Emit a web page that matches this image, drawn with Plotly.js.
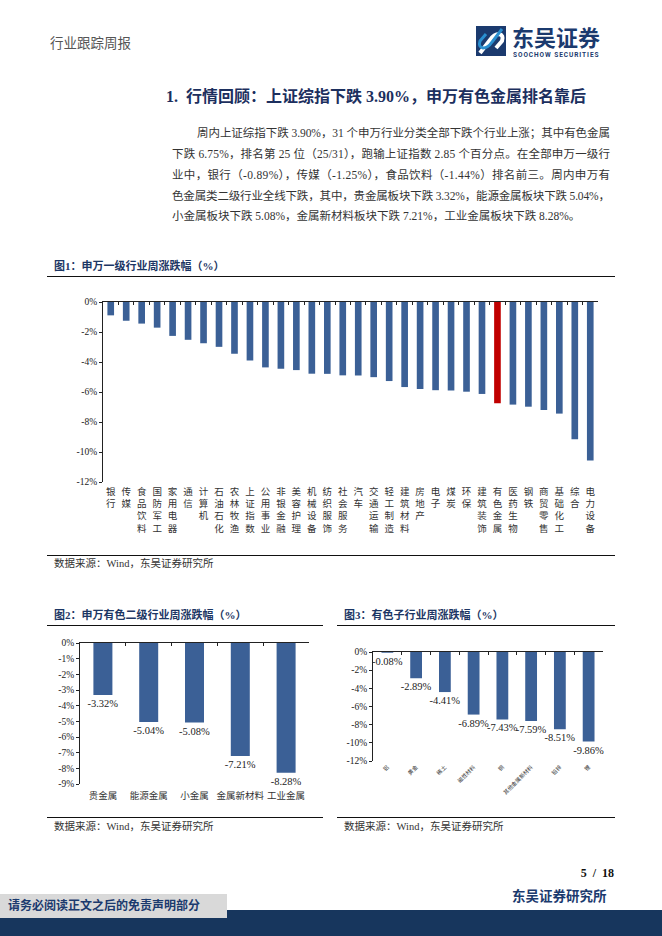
<!DOCTYPE html>
<html><head><meta charset="utf-8">
<script src="https://cdn.plot.ly/plotly-3.0.1.min.js"></script>
<style>
html,body{margin:0;padding:0;background:#fff;}
body{width:662px;height:936px;position:relative;overflow:hidden;font-family:"Liberation Serif","Noto Sans CJK SC",serif;}
.abs{position:absolute;white-space:nowrap;line-height:1;}
.para{position:absolute;line-height:20px;height:20px;font-size:11.5px;color:#333;white-space:nowrap;}
.ftitle{position:absolute;line-height:1;font-size:11px;font-weight:bold;color:#1c3664;white-space:nowrap;}
.rule{position:absolute;height:0;border-top:1.5px solid #111;}
.src{position:absolute;line-height:1;font-size:10.5px;color:#333;white-space:nowrap;}
.chart{position:absolute;}
</style></head><body>

<div class="abs" style="left:50px;top:36px;font-size:13.5px;color:#555;font-family:'Noto Sans CJK SC';">行业跟踪周报</div>
<svg class="abs" style="left:476px;top:26px;" width="30" height="30" viewBox="0 0 30 30">
  <rect x="0" y="0" width="30" height="30" fill="#1b3a6e"/>
  <path d="M4 27 L14 14 Q18 8 23 8 Q28 9 26 15 L20 22" fill="none" stroke="#fff" stroke-width="4"/>
  <path d="M26 3 L16 16 Q12 22 7 22 Q2 21 4 15 L10 8" fill="none" stroke="#2a8fd0" stroke-width="3"/>
</svg>
<div class="abs" style="left:512px;top:25px;font-size:22px;color:#1b3a6e;font-family:'Noto Sans CJK SC';font-weight:bold;">东吴证券</div>
<div class="abs" style="left:513px;top:51.5px;font-size:6.5px;color:#1b3a6e;font-family:Roboto;font-weight:bold;letter-spacing:0.95px;">SOOCHOW SECURITIES</div>

<div class="abs" style="left:166px;top:89px;font-size:16px;font-weight:bold;color:#1c2f5e;">1.&nbsp; 行情回顾：上证综指下跌 3.90%，申万有色金属排名靠后</div>

<div class="para fit" data-w="413" style="left:197px;top:123px;">周内上证综指下跌 3.90%，31 个申万行业分类全部下跌个行业上涨；其中有色金属</div>
<div class="para fit" data-w="438" style="left:172px;top:143.5px;">下跌 6.75%，排名第 25 位（25/31），跑输上证指数 2.85 个百分点。在全部申万一级行</div>
<div class="para fit" data-w="438" style="left:172px;top:164.5px;">业中，银行（-0.89%），传媒（-1.25%），食品饮料（-1.44%）排名前三。周内申万有</div>
<div class="para fit" data-w="438" style="left:172px;top:185.5px;">色金属类二级行业全线下跌，其中，贵金属板块下跌 3.32%，能源金属板块下跌 5.04%，</div>
<div class="para" style="left:172px;top:206px;">小金属板块下跌 5.08%，金属新材料板块下跌 7.21%，工业金属板块下跌 8.28%。</div>

<div class="ftitle" style="left:54px;top:261px;">图1：申万一级行业周涨跌幅（%）</div>
<div class="rule" style="left:47px;top:275.5px;width:568px;"></div>
<div id="fig1" class="chart" style="left:0;top:280px;width:662px;height:270px;"></div>
<div class="rule" style="left:47px;top:554.5px;width:568px;"></div>
<div class="src" style="left:54px;top:559px;">数据来源：Wind，东吴证券研究所</div>

<div class="ftitle" style="left:54px;top:609.5px;">图2：申万有色二级行业周涨跌幅（%）</div>
<div class="rule" style="left:47px;top:624.5px;width:276px;"></div>
<div class="ftitle" style="left:344px;top:609.5px;">图3：有色子行业周涨跌幅（%）</div>
<div class="rule" style="left:337px;top:624.5px;width:278px;"></div>
<div id="fig2" class="chart" style="left:0;top:630px;width:330px;height:180px;"></div>
<div id="fig3" class="chart" style="left:330px;top:630px;width:300px;height:180px;"></div>
<div class="rule" style="left:47px;top:816.5px;width:276px;"></div>
<div class="rule" style="left:337px;top:816.5px;width:278px;"></div>
<div class="src" style="left:54px;top:822px;">数据来源：Wind，东吴证券研究所</div>
<div class="src" style="left:344px;top:822px;">数据来源：Wind，东吴证券研究所</div>

<div class="abs" style="right:48px;top:867px;font-size:12px;font-weight:bold;color:#111;">5&nbsp; /&nbsp; 18</div>
<div class="abs" style="left:512px;top:890px;font-size:13.5px;font-weight:bold;color:#1b3a6e;">东吴证券研究所</div>
<div class="abs" style="left:227px;top:910px;width:435px;height:26px;background:#17365d;"></div>
<div class="abs" style="left:0;top:918px;width:662px;height:18px;background:#17365d;"></div>
<div class="abs" style="left:0;top:894px;width:227px;height:24px;background:#d9d9d9;"></div>
<div class="abs" style="left:8px;top:900px;font-size:12px;font-weight:bold;color:#1b3a6e;">请务必阅读正文之后的免责声明部分</div>

<script>
// fit justified paragraph lines to their width
document.querySelectorAll('.fit').forEach(el => {
  const target = parseFloat(el.dataset.w);
  const n = el.textContent.length;
  const natural = el.getBoundingClientRect().width;
  el.style.letterSpacing = ((target - natural) / (n - 1)) + 'px';
});

// ---------- data ----------
const fig1Categories = ['银行','传媒','食品饮料','国防军工','家用电器','通信','计算机','石油石化','农林牧渔','上证指数','公用事业','非银金融','美容护理','机械设备','纺织服饰','社会服务','汽车','交通运输','轻工制造','建筑材料','房地产','电子','煤炭','环保','建筑装饰','有色金属','医药生物','钢铁','商贸零售','基础化工','综合','电力设备'];
const fig1Values = [-0.89,-1.25,-1.44,-1.71,-2.26,-2.52,-2.75,-2.99,-3.45,-3.90,-4.36,-4.45,-4.54,-4.78,-4.79,-4.89,-4.90,-5.01,-5.27,-5.67,-5.80,-5.88,-5.90,-5.98,-6.13,-6.75,-6.84,-6.98,-7.20,-7.44,-9.15,-10.56];
const fig1Highlight = '有色金属';
const fig1YTickVals = [0,-2,-4,-6,-8,-10,-12];
const fig1YTickText = ['0%','-2%','-4%','-6%','-8%','-10%','-12%'];

const fig2Categories = ['贵金属','能源金属','小金属','金属新材料','工业金属'];
const fig2Values = [-3.32,-5.04,-5.08,-7.21,-8.28];
const fig2YTickVals = [0,-1,-2,-3,-4,-5,-6,-7,-8,-9];
const fig2YTickText = ['0%','-1%','-2%','-3%','-4%','-5%','-6%','-7%','-8%','-9%'];

const fig3Categories = ['铝','黄金','稀土','磁性材料','铜','其他金属新材料','铅锌','锂'];
const fig3Values = [-0.08,-2.89,-4.41,-6.89,-7.43,-7.59,-8.51,-9.86];
const fig3YTickVals = [0,-2,-4,-6,-8,-10,-12];
const fig3YTickText = ['0%','-2%','-4%','-6%','-8%','-10%','-12%'];

// ---------- styles ----------
const BLUE = '#3b6096';
const RED = '#c00000';
const serif = 'Liberation Serif';
const cjk = 'Noto Sans CJK SC';

function build(div, cats, vals, opts) {
  const colors = cats.map(c => (opts.highlight && c === opts.highlight) ? RED : BLUE);
  const main = {
    type: 'bar', x: cats, y: vals, xaxis: 'x', yaxis: 'y',
    marker: {color: colors, line: {width: 0}},
    hoverinfo: 'skip'
  };
  if (opts.labels) {
    main.text = vals.map(v => v.toFixed(2) + '%');
    main.textposition = 'outside';
    main.textfont = {family: serif, size: opts.labelSize, color: '#222'};
    main.cliponaxis = false;
    main.constraintext = 'none';
  }
  const ghost = {
    type: 'bar', x: cats, y: vals, xaxis: 'x2', yaxis: 'y',
    marker: {color: 'rgba(0,0,0,0)'}, hoverinfo: 'skip'
  };
  const layout = {
    width: opts.w, height: opts.h,
    margin: opts.margin,
    paper_bgcolor: 'rgba(0,0,0,0)', plot_bgcolor: 'rgba(0,0,0,0)',
    showlegend: false, bargap: opts.bargap,
    xaxis: {
      type: 'category', showline: false, ticks: '', showgrid: false, zeroline: false,
      tickmode: 'array', tickvals: cats, ticktext: opts.tickText || cats,
      tickangle: opts.tickAngle, tickfont: {family: cjk, size: opts.catSize, color: '#333'},
      ticklabelstandoff: opts.standoff || 0,
      automargin: false, fixedrange: true
    },
    xaxis2: {
      type: 'category', overlaying: 'x', side: 'top', anchor: 'y',
      showline: true, linecolor: '#222', linewidth: 1,
      ticks: 'inside', ticklen: 3, tickcolor: '#222', tickwidth: 1, tickson: 'boundaries',
      showticklabels: false, showgrid: false, zeroline: false, automargin: false
    },
    yaxis: {
      range: opts.yRange, tickmode: 'array', tickvals: opts.yTickVals, ticktext: opts.yTickText,
      showline: true, linecolor: '#222', linewidth: 1, ticks: 'outside', ticklen: 3, tickcolor: '#222',
      showgrid: false, zeroline: false, tickfont: {family: serif, size: opts.ySize, color: '#222'},
      automargin: false, fixedrange: true
    }
  };
  Plotly.newPlot(div, [main, ghost], layout, {staticPlot: true, displayModeBar: false});
}

build('fig1', fig1Categories, fig1Values, {
  w: 662, h: 270, margin: {l: 103, r: 64, t: 21.7, b: 67.7},
  bargap: 0.57, highlight: fig1Highlight,
  tickText: fig1Categories.map(c => c.split('').join('<br>')), tickAngle: 0, catSize: 9.5, standoff: 2,
  yRange: [-12, 0], yTickVals: fig1YTickVals, yTickText: fig1YTickText, ySize: 9.5
});

build('fig2', fig2Categories, fig2Values, {
  w: 330, h: 180, margin: {l: 80, r: 21, t: 13.3, b: 25.7},
  bargap: 0.585, labels: true, labelSize: 10.5,
  tickAngle: 0, catSize: 9.5, standoff: 4,
  yRange: [-9, 0], yTickVals: fig2YTickVals, yTickText: fig2YTickText, ySize: 9.5
});

build('fig3', fig3Categories, fig3Values, {
  w: 300, h: 180, margin: {l: 43.3, r: 27.3, t: 21.7, b: 48.7},
  bargap: 0.59, labels: true, labelSize: 10.5,
  tickAngle: -45, catSize: 5.5, standoff: 1,
  yRange: [-12, 0], yTickVals: fig3YTickVals, yTickText: fig3YTickText, ySize: 9.5
});
</script>
</body></html>
